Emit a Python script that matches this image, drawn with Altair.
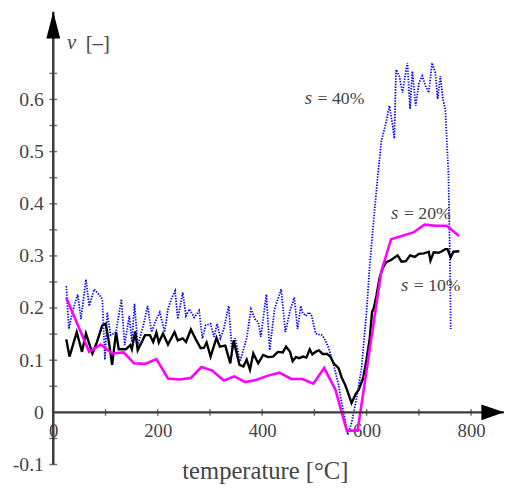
import altair as alt
import pandas as pd

# ---- data ----
# s = 10 %  (black solid)
black_t = [24.9, 31.1, 44.9, 55.0, 62.6, 75.0, 82.6, 93.9, 100.3, 106.5, 112.7, 120.2, 125.3, 139.1, 147.4,
           150.4, 156.8, 161.7, 175.7, 185.1, 191.3, 197.5, 202.0, 210.1, 219.6, 232.2, 238.4, 247.8, 254.1,
           263.5, 272.9, 282.3, 288.7, 293.6, 301.2, 312.5, 318.9, 329.4, 338.9, 345.3, 356.6, 364.1, 370.3,
           376.6, 383.0, 392.4, 401.8, 411.2, 420.7, 430.1, 439.5, 445.7, 453.3, 458.4, 464.6, 470.8, 478.3,
           484.7, 491.0, 496.1, 502.3, 508.5, 516.0, 524.3, 530.5, 536.8, 543.2, 546.2, 552.6, 558.8, 565.0,
           571.1, 579.0, 585.2, 593.3, 599.7, 605.9, 610.3, 614.0, 618.6, 624.8, 631.0, 637.4, 646.8, 659.3,
           666.8, 675.1, 683.2, 692.1, 700.2, 709.6, 719.0, 722.2, 728.4, 737.9, 744.1, 750.5, 754.8, 761.0,
           766.1, 777.4]
black_nu = [0.140, 0.107, 0.154, 0.116, 0.151, 0.113, 0.132, 0.167, 0.170, 0.135, 0.091, 0.154, 0.121, 0.121,
            0.129, 0.121, 0.155, 0.119, 0.148, 0.148, 0.135, 0.153, 0.134, 0.151, 0.130, 0.154, 0.138, 0.142,
            0.135, 0.159, 0.140, 0.123, 0.124, 0.134, 0.107, 0.143, 0.126, 0.128, 0.094, 0.138, 0.091, 0.088,
            0.101, 0.082, 0.113, 0.094, 0.110, 0.106, 0.107, 0.116, 0.115, 0.126, 0.116, 0.098, 0.106, 0.104,
            0.107, 0.105, 0.121, 0.111, 0.116, 0.119, 0.112, 0.112, 0.107, 0.094, 0.088, 0.085, 0.066, 0.053,
            0.036, 0.018, 0.035, 0.044, 0.066, 0.101, 0.142, 0.192, 0.201, 0.223, 0.258, 0.277, 0.288, 0.292,
            0.301, 0.289, 0.290, 0.301, 0.298, 0.304, 0.305, 0.308, 0.291, 0.307, 0.306, 0.309, 0.313, 0.313,
            0.297, 0.308, 0.309]

# s = 20 %  (magenta)
mag_t = [24.9, 46.7, 68.8, 90.8, 112.7, 134.7, 154.5, 175.6, 197.5, 219.6, 241.6, 263.5, 283.6, 304.4,
         326.4, 346.8, 367.5, 388.2, 409.9, 433.1, 455.7, 477.2, 497.9, 518.7, 540.0, 562.0, 582.7, 628.0,
         646.8, 689.4, 710.9, 731.6, 753.5, 776.8]
mag_nu = [0.220, 0.168, 0.116, 0.130, 0.113, 0.115, 0.094, 0.093, 0.102, 0.065, 0.063, 0.066, 0.087, 0.080,
          0.061, 0.069, 0.058, 0.062, 0.070, 0.076, 0.064, 0.064, 0.055, 0.085, 0.044, -0.035, -0.035, 0.270,
          0.332, 0.345, 0.360, 0.358, 0.358, 0.338]

# s = 40 %  (blue dotted)
blue_t = [24.9, 29.8, 37.3, 46.7, 53.1, 62.6, 68.8, 78.2, 87.6, 93.9, 98.9, 103.3, 109.7, 120.2, 130.4,
          136.6, 145.5, 150.4, 155.5, 161.7, 172.5, 180.6, 188.1, 197.5, 203.9, 213.3, 219.6, 225.8, 233.3,
          238.4, 247.8, 254.1, 260.5, 269.9, 279.3, 285.5, 291.8, 301.2, 307.6, 313.8, 320.0, 326.4, 335.9,
          342.1, 348.3, 357.7, 370.3, 378.5, 386.0, 392.4, 397.3, 408.0, 414.3, 423.7, 436.3, 444.4, 453.3,
          461.4, 467.8, 474.0, 477.2, 483.4, 489.6, 494.7, 502.3, 514.9, 521.1, 527.3, 536.8, 546.2, 552.6,
          557.5, 563.9, 571.4, 580.9, 590.3, 599.7, 605.9, 612.1, 621.6, 628.0, 637.4, 643.6, 649.8, 653.0,
          656.3, 662.5, 668.7, 675.1, 678.1, 683.2, 687.5, 694.0, 700.2, 706.4, 712.8, 719.0, 725.2, 731.6,
          736.0, 741.1, 745.9, 750.5, 756.7, 759.2, 761.0]
blue_nu = [0.242, 0.160, 0.195, 0.226, 0.179, 0.255, 0.204, 0.236, 0.226, 0.217, 0.101, 0.192, 0.148, 0.154,
           0.217, 0.129, 0.185, 0.135, 0.208, 0.129, 0.167, 0.204, 0.154, 0.179, 0.192, 0.154, 0.198, 0.217,
           0.233, 0.179, 0.230, 0.185, 0.198, 0.182, 0.195, 0.142, 0.167, 0.170, 0.145, 0.170, 0.142, 0.160,
           0.204, 0.116, 0.142, 0.098, 0.142, 0.198, 0.179, 0.173, 0.145, 0.226, 0.119, 0.198, 0.236, 0.154,
           0.195, 0.220, 0.160, 0.204, 0.192, 0.185, 0.192, 0.185, 0.151, 0.148, 0.138, 0.123, 0.091, 0.053,
           0.016, -0.009, -0.043, -0.019, 0.028, 0.085, 0.192, 0.283, 0.353, 0.456, 0.519, 0.557, 0.588, 0.550,
           0.525, 0.657, 0.645, 0.613, 0.654, 0.670, 0.582, 0.654, 0.588, 0.632, 0.645, 0.626, 0.613, 0.670,
           0.651, 0.601, 0.645, 0.601, 0.582, 0.456, 0.311, 0.160]

# axes
x_tick_values = [100, 200, 300, 400, 500, 600, 700, 800]
x_label_values = [0, 200, 400, 600, 800]
y_tick_values = [-0.1, -0.05, 0.05, 0.1, 0.15, 0.2, 0.25, 0.3, 0.35, 0.4, 0.45, 0.5, 0.55, 0.6, 0.65]
y_label_values = [-0.1, 0, 0.1, 0.2, 0.3, 0.4, 0.5, 0.6]
X_MIN, X_MAX = 0, 863
Y_MIN, Y_MAX = -0.1, 0.768

# annotations
ann_t = [481.5, 646.8, 665.7]
ann_nu = [0.591, 0.371, 0.233]
ann_rest = ["= 40%", "= 20%", "= 10%"]

FONT = "Liberation Serif"
TXT = "#444444"
AX = "#3a3a3a"

xscale = alt.Scale(domain=[X_MIN, X_MAX], nice=False, zero=False)
yscale = alt.Scale(domain=[Y_MIN, Y_MAX], nice=False, zero=False)

xaxis = alt.Axis(values=x_label_values, domain=False, ticks=False, grid=False, offset=-53,
                 labelFont=FONT, labelFontSize=19, labelColor=TXT, labelPadding=10, labelFlush=False,
                 format="d",
                 title="temperature [°C]", titleFont=FONT, titleFontSize=25, titleFontWeight="normal",
                 titleColor=TXT, titleX=215, titleY=67, titleAlign="center", titleBaseline="alphabetic")
yaxis = alt.Axis(values=y_label_values, domain=False, ticks=False, grid=False,
                 labelExpr="datum.value < 0 ? '-' + format(-datum.value, '.1f') : (datum.value == 0 ? '0' : format(datum.value, '.1f'))",
                 labelFont=FONT, labelFontSize=20, labelColor=TXT, labelPadding=10, labelFlush=False,
                 labelBaseline="middle", title=None)


def X(field):
    return alt.X(field, type="quantitative", scale=xscale, axis=xaxis)


def Y(field):
    return alt.Y(field, type="quantitative", scale=yscale, axis=yaxis)


blue_df = pd.DataFrame({"t": blue_t, "nu": blue_nu})
black_df = pd.DataFrame({"t": black_t, "nu": black_nu})
mag_df = pd.DataFrame({"t": mag_t, "nu": mag_nu})

blue_line = alt.Chart(blue_df).mark_line(color="#0000ff", strokeWidth=1.8, strokeDash=[1.4, 1.4]).encode(
    x=X("t"), y=Y("nu"), order="t:Q")
black_line = alt.Chart(black_df).mark_line(color="#000000", strokeWidth=2.4).encode(
    x=X("t"), y=Y("nu"), order="t:Q")
mag_line = alt.Chart(mag_df).mark_line(color="#ff00ff", strokeWidth=2.6).encode(
    x=X("t"), y=Y("nu"), order="t:Q")

# axis lines
h_df = pd.DataFrame({"a": [X_MIN], "b": [X_MAX], "y": [0]})
v_df = pd.DataFrame({"x": [0], "a": [Y_MIN], "b": [Y_MAX]})
h_axis = alt.Chart(h_df).mark_rule(color=AX, strokeWidth=2.5).encode(x=X("a"), x2="b", y=Y("y"))
v_axis = alt.Chart(v_df).mark_rule(color=AX, strokeWidth=2.5).encode(x=X("x"), y=Y("a"), y2="b")

xt_df = pd.DataFrame({"t": x_tick_values, "y": [0] * len(x_tick_values)})
yt_df = pd.DataFrame({"x": [0] * len(y_tick_values), "nu": y_tick_values})
x_ticks = alt.Chart(xt_df).mark_tick(orient="vertical", size=7, thickness=1.5, color=AX).encode(
    x=X("t"), y=Y("y"))
y_ticks = alt.Chart(yt_df).mark_tick(orient="horizontal", size=8, thickness=1.5, color=AX).encode(
    x=X("x"), y=Y("nu"))

# arrow heads
xa_df = pd.DataFrame({"t": [X_MAX], "y": [0]})
ya_df = pd.DataFrame({"x": [0], "nu": [Y_MAX]})
x_arrow = alt.Chart(xa_df).mark_point(shape="M0,0L-2,-0.7L-2,0.7Z", filled=True, opacity=1,
                                      color="#000000", size=529, strokeWidth=0).encode(x=X("t"), y=Y("y"))
y_arrow = alt.Chart(ya_df).mark_point(shape="M0,0L-0.52,2L0.52,2Z", filled=True, opacity=1,
                                      color="#000000", size=729, strokeWidth=0).encode(x=X("x"), y=Y("nu"))

# y axis title
nu_title = alt.Chart(pd.DataFrame({"s": ["ν"]})).mark_text(
    font=FONT, fontSize=21, fontStyle="italic", color=TXT, align="left", baseline="alphabetic").encode(
    x=alt.value(14), y=alt.value(38), text="s:N")
unit_title = alt.Chart(pd.DataFrame({"s": ["[–]"]})).mark_text(
    font=FONT, fontSize=21, color=TXT, align="left", baseline="alphabetic").encode(
    x=alt.value(33), y=alt.value(39), text="s:N")

ann_df = pd.DataFrame({"t": ann_t, "nu": ann_nu, "var": ["s"] * 3, "rest": ann_rest})
ann_s = alt.Chart(ann_df).mark_text(font=FONT, fontSize=19, fontStyle="italic", color=TXT,
                                    align="left", baseline="alphabetic").encode(
    x=X("t"), y=Y("nu"), text="var:N")
ann_r = alt.Chart(ann_df).mark_text(font=FONT, fontSize=18, color=TXT, align="left",
                                    baseline="alphabetic", dx=13).encode(
    x=X("t"), y=Y("nu"), text="rest:N")

chart = alt.layer(
    blue_line, black_line, mag_line, h_axis, v_axis, x_ticks, y_ticks, x_arrow, y_arrow,
    nu_title, unit_title, ann_s, ann_r
).properties(
    width=458, height=460,
    padding={"left": 46, "top": 0, "right": 0, "bottom": 22},
    autosize="none",
    background="white",
).configure_view(
    stroke=None
).configure_axis(
    labelFont=FONT, titleFont=FONT, labelColor=TXT, titleColor=TXT
).configure_text(
    font=FONT
)

chart.save("out.html", embed_options={"renderer": "svg", "actions": False})
